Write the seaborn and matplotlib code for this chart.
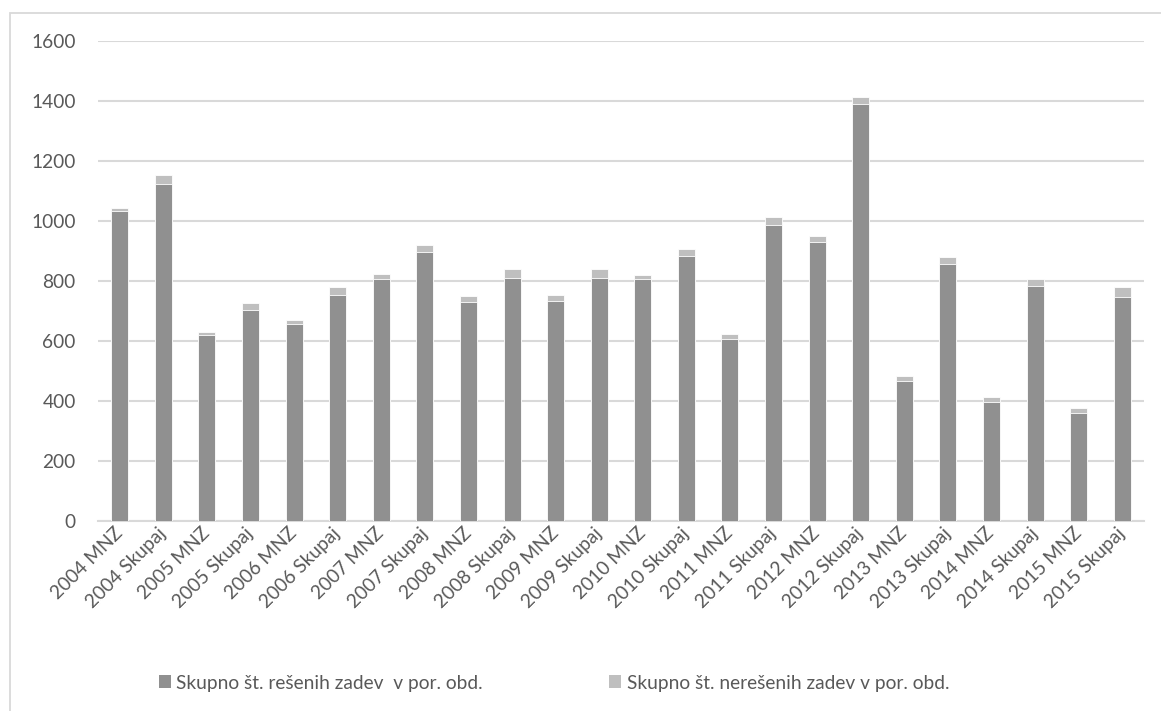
import matplotlib
matplotlib.use("Agg")
import matplotlib.pyplot as plt
from matplotlib.patches import Rectangle, Patch
import seaborn as sns
import pandas as pd

categories = [
    "2004 MNZ", "2004 Skupaj", "2005 MNZ", "2005 Skupaj", "2006 MNZ", "2006 Skupaj",
    "2007 MNZ", "2007 Skupaj", "2008 MNZ", "2008 Skupaj", "2009 MNZ", "2009 Skupaj",
    "2010 MNZ", "2010 Skupaj", "2011 MNZ", "2011 Skupaj", "2012 MNZ", "2012 Skupaj",
    "2013 MNZ", "2013 Skupaj", "2014 MNZ", "2014 Skupaj", "2015 MNZ", "2015 Skupaj",
]
resolved = [1034, 1124, 621, 704, 658, 755, 808, 898, 731, 811, 734, 811,
            808, 884, 608, 988, 931, 1389, 468, 858, 398, 784, 361, 747]
unresolved = [11, 28, 10, 23, 12, 25, 16, 23, 19, 30, 18, 29,
              12, 24, 15, 24, 18, 24, 15, 23, 15, 23, 15, 32]
series_names = ["Skupno št. rešenih zadev  v por. obd.",
                "Skupno št. nerešenih zadev v por. obd."]
y_ticks = [0, 200, 400, 600, 800, 1000, 1200, 1400, 1600]

df = pd.DataFrame({"kategorija": categories, "reseno": resolved, "nereseno": unresolved})
df["skupaj"] = df["reseno"] + df["nereseno"]

DARK = "#909090"
LIGHT = "#bfbfbf"
GRID = "#d9d9d9"
TEXT = "#595959"
FS = 13.75

sns.set_theme(style="white")
plt.rcParams["font.family"] = ["Lato", "DejaVu Sans"]

fig = plt.figure(figsize=(11.61, 7.11), dpi=100)
ax = fig.add_axes([98 / 1161, 1 - 521 / 711, (1144 - 98) / 1161, (521 - 41) / 711])

# stacked bars: total in light grey, resolved part in dark grey on top of it
sns.barplot(data=df, x="kategorija", y="skupaj", color=LIGHT, width=0.39,
            saturation=1, ax=ax, edgecolor="white", linewidth=0.6, zorder=3)
sns.barplot(data=df, x="kategorija", y="reseno", color=DARK, width=0.39,
            saturation=1, ax=ax, edgecolor="white", linewidth=0.6, zorder=4)

ax.set_ylim(0, 1600)
ax.set_xlim(-0.5, len(categories) - 0.5)
ax.set_yticks(y_ticks)
ax.set_yticklabels([str(v) for v in y_ticks])
ax.yaxis.grid(True, color=GRID, linewidth=1.5, zorder=0)
ax.set_axisbelow(True)
ax.set_xlabel("")
ax.set_ylabel("")
for side in ["left", "right", "top"]:
    ax.spines[side].set_visible(False)
ax.spines["bottom"].set_color(GRID)
ax.spines["bottom"].set_linewidth(1.5)
ax.tick_params(axis="both", length=0, colors=TEXT, labelsize=FS)
ax.tick_params(axis="y", pad=16)
ax.tick_params(axis="x", pad=7)
for lbl in ax.get_xticklabels():
    lbl.set_rotation(45)
    lbl.set_ha("right")
    lbl.set_rotation_mode("anchor")
    lbl.set_va("center")

handles = [Patch(facecolor=DARK, edgecolor="none"), Patch(facecolor=LIGHT, edgecolor="none")]
fig.legend(handles, series_names, loc="center", bbox_to_anchor=(554 / 1161, 1 - 683 / 711),
           ncol=2, frameon=False, fontsize=FS, labelcolor=TEXT,
           handlelength=0.65, handleheight=0.65, handletextpad=0.28, columnspacing=6.6)

# chart-area frame
fig.patches.append(Rectangle((10 / 1161, -0.2), 1.5, 1.2 - 13 / 711,
                             transform=fig.transFigure, fill=False,
                             edgecolor=GRID, linewidth=1.3))

fig.savefig("out.png", dpi=100, facecolor="white")
